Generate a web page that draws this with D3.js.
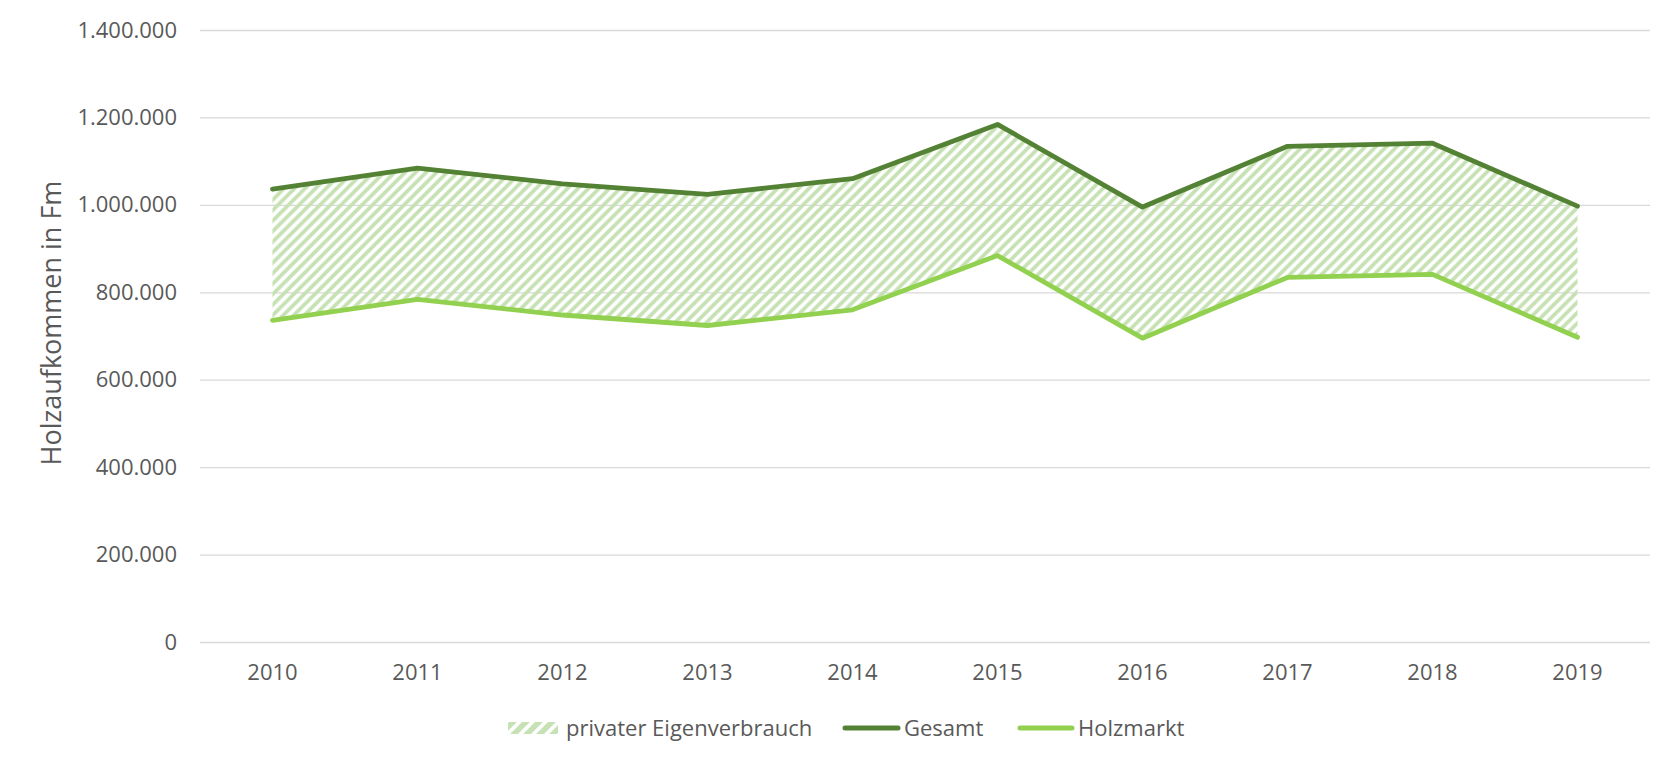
<!DOCTYPE html>
<html>
<head>
<meta charset="utf-8">
<script src="https://cdn.jsdelivr.net/npm/d3@7"></script>
<style>
  html, body { margin: 0; padding: 0; background: #fff; }
  svg { display: block; font-family: "Open Sans", sans-serif; }
</style>
</head>
<body>
<svg id="chart" width="1680" height="768"></svg>
<script>
// ---- data ----
const years = ["2010","2011","2012","2013","2014","2015","2016","2017","2018","2019"];
const holzmarkt = [736000, 784000, 748000, 724000, 760000, 884000, 695000, 834000, 841000, 697000];
const eigenverbrauch = [300000, 300000, 300000, 300000, 300000, 300000, 300000, 300000, 300000, 300000];
const gesamt = [1036000, 1084000, 1048000, 1024000, 1060000, 1184000, 995000, 1134000, 1141000, 997000];
const yTicks = [0, 200000, 400000, 600000, 800000, 1000000, 1200000, 1400000];
const legendLabels = ["privater Eigenverbrauch", "Gesamt", "Holzmarkt"];
const yTitle = "Holzaufkommen in Fm";

(function () {
// ---- layout ----
const svg = d3.select("#chart");
const pLeft = 200, pRight = 1650, pTop = 30, pBottom = 642;
const textColor = "#595959";
const darkGreen = "#548235", lightGreen = "#92d050", hatchColor = "#c6e1b3";

const x = d3.scaleBand().domain(years).range([pLeft, pRight]).padding(0);
const y = d3.scaleLinear().domain([0, 1400000]).range([pBottom, pTop]);
const cx = d => x(d) + x.bandwidth() / 2;

// patterns
const defs = svg.append("defs");
function makeHatch(id, s, w) {
  const p = defs.append("pattern").attr("id", id)
    .attr("patternUnits", "userSpaceOnUse").attr("width", s).attr("height", s);
  p.append("path").attr("d", `M${-s/4},${s/4} L${s/4},${-s/4} M0,${s} L${s},0 M${s*3/4},${s*5/4} L${s*5/4},${s*3/4}`)
    .attr("stroke", hatchColor).attr("stroke-width", w).attr("fill", "none");
}
makeHatch("hatch", 10.5, 3.8);
makeHatch("hatchLegend", 13, 5.5);

// gridlines + y labels
const fmt = v => d3.format(",")(v).replace(/,/g, ".");
const yAxis = d3.axisLeft(y).tickValues(yTicks).tickSize(-(pRight - pLeft)).tickPadding(23).tickFormat(fmt);
const gy = svg.append("g").attr("transform", `translate(${pLeft},0)`).call(yAxis);
gy.select(".domain").remove();
gy.selectAll(".tick line").attr("stroke", "#d9d9d9").attr("stroke-width", 1.3);
gy.selectAll(".tick text").attr("fill", textColor).style("font-size", "22px")
  .style("font-family", "'Open Sans', sans-serif");

// x labels
const xAxis = d3.axisBottom(x).tickSize(0).tickPadding(22);
const gx = svg.append("g").attr("transform", `translate(0,${pBottom})`).call(xAxis);
gx.select(".domain").remove();
gx.selectAll(".tick text").attr("fill", textColor).style("font-size", "22px")
  .style("font-family", "'Open Sans', sans-serif");

// stacked area
const rows = years.map((yr, i) => ({ year: yr, holzmarkt: holzmarkt[i], eigen: eigenverbrauch[i] }));
const stack = d3.stack().keys(["holzmarkt", "eigen"]);
const series = stack(rows);
const area = d3.area()
  .x(d => cx(d.data.year))
  .y0(d => y(d[0]))
  .y1(d => y(d[1]));
svg.append("path").datum(series[1]).attr("d", area).attr("fill", "url(#hatch)");

// lines
const line = d3.line().x((d, i) => cx(years[i])).y(d => y(d));
svg.append("path").datum(holzmarkt).attr("d", line).attr("fill", "none")
  .attr("stroke", lightGreen).attr("stroke-width", 4.8).attr("stroke-linecap", "round").attr("stroke-linejoin", "round");
svg.append("path").datum(gesamt).attr("d", line).attr("fill", "none")
  .attr("stroke", darkGreen).attr("stroke-width", 4.8).attr("stroke-linecap", "round").attr("stroke-linejoin", "round");

// y title
svg.append("text").attr("transform", `translate(61,${(pTop + pBottom) / 2 - 13}) rotate(-90)`)
  .attr("text-anchor", "middle").attr("fill", textColor)
  .style("font-size", "27px").text(yTitle);

// legend
const ly = 728;
const lg = svg.append("g");
lg.append("rect").attr("x", 508).attr("y", ly - 6).attr("width", 50).attr("height", 12).attr("fill", "url(#hatchLegend)");
lg.append("text").attr("x", 566).attr("y", ly).attr("dy", "0.35em").attr("fill", textColor)
  .style("font-size", "22px").text(legendLabels[0]);
lg.append("line").attr("x1", 845).attr("x2", 898).attr("y1", ly).attr("y2", ly)
  .attr("stroke", darkGreen).attr("stroke-width", 5).attr("stroke-linecap", "round");
lg.append("text").attr("x", 904).attr("y", ly).attr("dy", "0.35em").attr("fill", textColor)
  .style("font-size", "22px").text(legendLabels[1]);
lg.append("line").attr("x1", 1020).attr("x2", 1072).attr("y1", ly).attr("y2", ly)
  .attr("stroke", lightGreen).attr("stroke-width", 5).attr("stroke-linecap", "round");
lg.append("text").attr("x", 1078).attr("y", ly).attr("dy", "0.35em").attr("fill", textColor)
  .style("font-size", "22px").text(legendLabels[2]);
})();
</script>
</body>
</html>
